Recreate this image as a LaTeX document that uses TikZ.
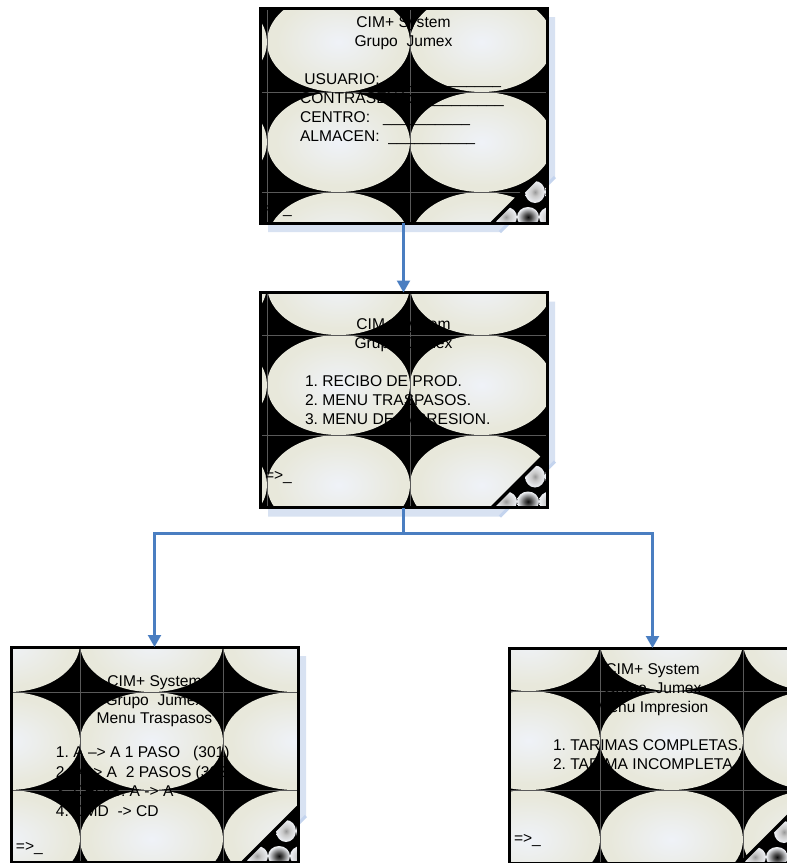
\documentclass[tikz,border=0pt]{standalone}
\usepackage{fontspec}
\setmainfont{Liberation Sans}
\usetikzlibrary{arrows.meta}
\frenchspacing

\definecolor{beigeout}{RGB}{232,232,219}
\definecolor{beigein}{RGB}{239,242,248}
\definecolor{shadowblue}{RGB}{216,226,242}
\definecolor{shadowline}{RGB}{196,212,238}
\definecolor{flowblue}{RGB}{74,126,193}
\definecolor{peelpale}{RGB}{236,238,242}

% soft glow used for the tiled ellipses of each terminal screen
\pgfdeclareradialshading{tileglow}{\pgfpoint{0bp}{0bp}}{%
  color(0bp)=(beigein); color(9bp)=(beigein!60!beigeout);
  color(22bp)=(beigeout); color(50bp)=(beigeout)}
% blurred spots on the folded corner
\pgfdeclareradialshading{peeldark}{\pgfpoint{0bp}{0bp}}{%
  color(0bp)=(black!95); color(8bp)=(black!70); color(24bp)=(peelpale);
  color(50bp)=(peelpale)}
\pgfdeclareradialshading{peellight}{\pgfpoint{0bp}{0bp}}{%
  color(0bp)=(black!40); color(9bp)=(black!22); color(24bp)=(peelpale);
  color(50bp)=(peelpale)}

\tikzset{
  screenbox/.style={rectangle, minimum width=287pt, minimum height=215pt,
    inner sep=0pt, outer sep=0pt},
  scr/.style={font=\fontsize{15.6}{18.8}\selectfont, inner sep=0pt,
    outer sep=0pt, text=black},
  ctr/.style={scr, anchor=base},
  lft/.style={scr, anchor=base west},
  seam/.style={draw=black!65, line width=0.5pt},
  flow/.style={draw=flowblue, line width=2.2pt,
    -{Triangle[width=13pt,length=12pt]}},
}

% #1 screen node, #2/#3 centre of the first tile ellipse, #4 half tile height
\newcommand\terminalscreen[4]{%
  % drop shadow with cut corner
  \fill[shadowblue] ([shift={(8,9)}]#1.north west) -- ([shift={(8,9)}]#1.north east)
    -- ([shift={(8,-46)}]#1.south east) -- ([shift={(-47,9)}]#1.south east)
    -- ([shift={(8,9)}]#1.south west) -- cycle;
  \draw[shadowline, line width=3pt] ([shift={(-47,9)}]#1.south east)
    -- ([shift={(8,-46)}]#1.south east);
  % screen face: black ground with tiled ellipses
  \fill[black] (#1.south west) rectangle (#1.north east);
  \begin{scope}
    \clip (#1.south west) rectangle (#1.north east);
    \foreach \i in {0,...,3}{
      \foreach \j in {0,...,3}{
        \shade[shading=tileglow] ({#2+143*\i},{#3+2*#4*\j})
          ellipse [x radius=71.5pt, y radius=#4pt];
      }
    }
    \foreach \i in {0,...,3}{
      \draw[seam] ({#2+71.5+143*\i},{#3-#4}) -- ++(0,{8*#4});
      \draw[seam] ({#2-71.5},{#3+#4+2*#4*\i}) -- ++(600,0);
    }
    % folded corner
    \begin{scope}
      \clip (#1.south east) -- ++(-55,0) -- ++(55,-55) -- cycle;
      \fill[black] (#1.south east) rectangle ++(-60,-60);
      \begin{scope}[shift={(#1.south east)}]
        \shade[shading=peellight] (-12,-31) ellipse [x radius=10pt, y radius=11pt];
        \shade[shading=peellight] (8,-31) ellipse [x radius=10pt, y radius=11pt];
        \shade[shading=peeldark] (-19,-6) ellipse [x radius=11pt, y radius=10pt];
        \shade[shading=peellight] (-41,-6) ellipse [x radius=11pt, y radius=10pt];
        \shade[shading=peellight] (3,-6) ellipse [x radius=11pt, y radius=10pt];
      \end{scope}
    \end{scope}
  \end{scope}
  \draw[line width=3.5pt] ([shift={(-55,0)}]#1.south east)
    -- ([shift={(0,-55)}]#1.south east);
  \draw[line width=3pt] (#1.south west) rectangle (#1.north east);
}

\begin{document}
\begin{tikzpicture}[x=1pt, y=-1pt]
  \useasboundingbox (0,0) rectangle (787,863);
  \fill[white] (0,0) rectangle (787,863);

  % the four terminal screens
  \node[screenbox] (s1) at (403.5,115.5) {};
  \node[screenbox] (s2) at (403.5,400) {};
  \node[screenbox] (s3) at (154.5,754.5) {};
  \node[screenbox] (s4) at (652.5,755.5) {};

  \terminalscreen{s1}{195.5}{-58}{50}
  \terminalscreen{s2}{195.5}{185}{50}
  \terminalscreen{s3}{8.5}{643}{49}
  \terminalscreen{s4}{528.5}{641.5}{49.5}

  % login screen
  \node[ctr] (s1a) at (403.5,27) {CIM+ System};
  \node[ctr] (s1b) at (403.5,46.5) {Grupo\ \ Jumex};
  \node[lft] (s1c) at (300,84) {\ USUARIO:\ \ \_\_\_\_\_\_\_\_\_\_\_\_\_};
  \node[lft] (s1d) at (300,103) {CONTRASEÑA:\ \_\_\_\_\_\_\_\_\_\_};
  \node[lft] (s1e) at (300,122) {CENTRO:\ \ \ \_\_\_\_\_\_\_\_\_\_};
  \node[lft] (s1f) at (300,141.5) {ALMACEN:\ \ \_\_\_\_\_\_\_\_\_\_};
  \node[lft] (s1g) at (265,213) {=>\_};

  % main menu
  \node[ctr] (s2a) at (403.5,329) {CIM+ System};
  \node[ctr] (s2b) at (403.5,348) {Grupo\ \ Jumex};
  \node[lft] (s2c) at (305,386.7) {1. RECIBO DE PROD.};
  \node[lft] (s2d) at (305,405.4) {2. MENU TRASPASOS.};
  \node[lft] (s2e) at (305,424.1) {3. MENU DE IMPRESION.};
  \node[lft] (s2f) at (265,480) {=>\_};

  % transfer menu
  \node[ctr] (s3a) at (154.5,686) {CIM+ System};
  \node[ctr] (s3b) at (154.5,705) {Grupo\ \ Jumex};
  \node[ctr] (s3c) at (154.5,723.5) {Menu Traspasos};
  \node[lft] (s3d) at (56,757.5) {1. A –> A 1 PASO\ \ \ (301)};
  \node[lft] (s3e) at (56,777) {2. A -> A\ \ 2 PASOS (303)};
  \node[lft] (s3f) at (56,796.5) {3. CEDIS: A -> A};
  \node[lft] (s3g) at (56,816) {4. CMD\ \ -> CD};
  \node[lft] (s3h) at (16,851) {=>\_};

  % print menu
  \node[ctr] (s4a) at (652.5,674) {CIM+ System};
  \node[ctr] (s4b) at (652.5,693.3) {Grupo\ \ Jumex};
  \node[ctr] (s4c) at (652.5,712.7) {Menu Impresion};
  \node[lft] (s4d) at (553,750) {1. TARIMAS COMPLETAS.};
  \node[lft] (s4e) at (553,769.5) {2. TARIMA INCOMPLETA.};
  \node[lft] (s4f) at (514,843) {=>\_};

  % navigation flow
  \draw[flow] (s1.south) -- (s2.north);
  \draw[flow] (s2.south) -- ++(0,26) coordinate (split) -| (s3.north);
  \draw[flow] (split) -| (s4.north);
\end{tikzpicture}
\end{document}
